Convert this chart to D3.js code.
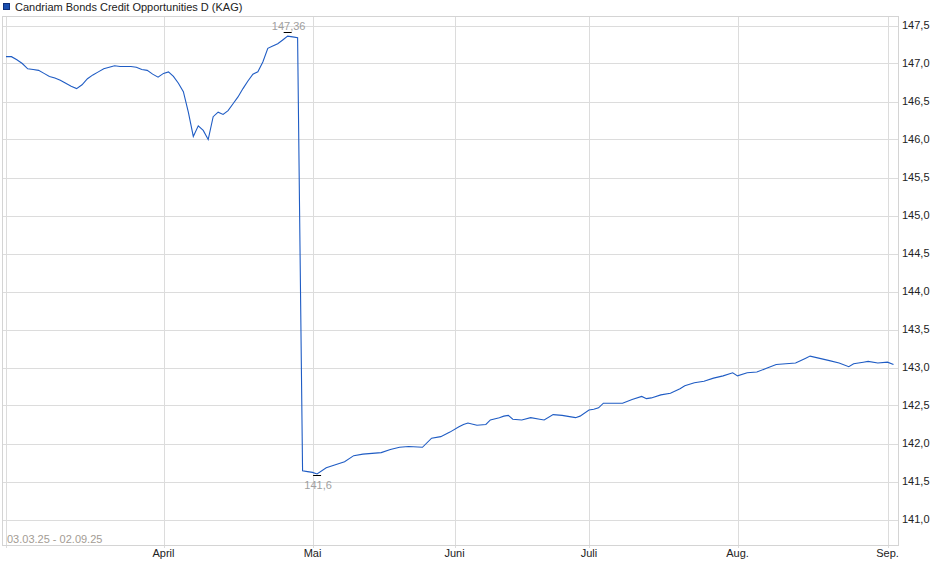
<!DOCTYPE html>
<html>
<head>
<meta charset="utf-8">
<script src="https://cdn.jsdelivr.net/npm/d3@7"></script>
<style>
  body { margin: 0; background: #fff; }
  text { font-family: "Liberation Sans", Arial, sans-serif; font-size: 11px; }
</style>
</head>
<body>
<script>
var seriesName = "Candriam Bonds Credit Opportunities D (KAG)";
var rangeLabel = "03.03.25 - 02.09.25";

var dates = [
  "2025-03-03","2025-03-04","2025-03-05","2025-03-06","2025-03-07","2025-03-08","2025-03-09","2025-03-10",
  "2025-03-11","2025-03-12","2025-03-13","2025-03-14","2025-03-15","2025-03-16","2025-03-17","2025-03-18",
  "2025-03-19","2025-03-20","2025-03-21","2025-03-22","2025-03-23","2025-03-24","2025-03-25","2025-03-26",
  "2025-03-27","2025-03-28","2025-03-29","2025-03-30","2025-03-31","2025-04-01","2025-04-02","2025-04-03",
  "2025-04-04","2025-04-05","2025-04-06","2025-04-07","2025-04-08","2025-04-09","2025-04-10","2025-04-11",
  "2025-04-12","2025-04-13","2025-04-14","2025-04-15","2025-04-16","2025-04-17","2025-04-18","2025-04-19",
  "2025-04-20","2025-04-21","2025-04-22","2025-04-23","2025-04-24","2025-04-25","2025-04-26","2025-04-27",
  "2025-04-28","2025-04-29","2025-04-30","2025-05-01","2025-05-02","2025-05-04","2025-05-06","2025-05-08",
  "2025-05-10","2025-05-12","2025-05-14","2025-05-16","2025-05-18","2025-05-20","2025-05-22","2025-05-25",
  "2025-05-27","2025-05-29","2025-05-31","2025-06-02","2025-06-03","2025-06-04","2025-06-06","2025-06-08",
  "2025-06-09","2025-06-11","2025-06-12","2025-06-13","2025-06-14","2025-06-16","2025-06-18","2025-06-20",
  "2025-06-21","2025-06-23","2025-06-25","2025-06-27","2025-06-28","2025-06-29","2025-07-01","2025-07-02",
  "2025-07-03","2025-07-04","2025-07-08","2025-07-10","2025-07-12","2025-07-13","2025-07-14","2025-07-16",
  "2025-07-18","2025-07-20","2025-07-21","2025-07-23","2025-07-25","2025-07-27","2025-07-29","2025-07-31",
  "2025-08-01","2025-08-03","2025-08-05","2025-08-07","2025-08-09","2025-08-11","2025-08-13","2025-08-14",
  "2025-08-15","2025-08-16","2025-08-18","2025-08-20","2025-08-22","2025-08-24","2025-08-25","2025-08-27",
  "2025-08-28","2025-08-30","2025-09-01","2025-09-02"
];

var values = [
  147.09,147.09,147.05,147.00,146.93,146.92,146.91,146.87,
  146.83,146.81,146.78,146.74,146.70,146.67,146.72,146.80,
  146.85,146.89,146.93,146.95,146.97,146.96,146.96,146.96,
  146.95,146.92,146.91,146.86,146.82,146.87,146.89,146.83,
  146.74,146.63,146.36,146.04,146.18,146.12,146.00,146.30,
  146.36,146.33,146.38,146.47,146.56,146.67,146.77,146.86,
  146.89,147.02,147.20,147.23,147.26,147.31,147.36,147.35,
  147.34,141.64,141.63,141.62,141.60,141.68,141.72,141.76,
  141.84,141.86,141.87,141.88,141.92,141.95,141.96,141.95,
  142.07,142.09,142.15,142.22,142.25,142.27,142.24,142.25,
  142.31,142.34,142.36,142.37,142.32,142.31,142.34,142.32,
  142.31,142.38,142.37,142.35,142.34,142.36,142.44,142.45,
  142.47,142.53,142.53,142.58,142.62,142.59,142.60,142.64,
  142.66,142.72,142.76,142.80,142.82,142.86,142.89,142.93,
  142.89,142.93,142.94,142.99,143.04,143.05,143.06,143.09,
  143.12,143.15,143.12,143.09,143.06,143.01,143.05,143.07,
  143.08,143.06,143.07,143.04
];

var monthDates = ["2025-04-01","2025-05-01","2025-06-01","2025-07-01","2025-08-01","2025-09-01"];
var monthLabels = ["April","Mai","Juni","Juli","Aug.","Sep."];
var yTicks = [141.0,141.5,142.0,142.5,143.0,143.5,144.0,144.5,145.0,145.5,146.0,146.5,147.0,147.5];

var width = 940, height = 579;
var frame = {left: 2, top: 16, right: 898, bottom: 545};

var parse = d3.timeParse("%Y-%m-%d");
var data = dates.map(function(d, i) { return {date: parse(d), value: values[i]}; });

var de = d3.formatLocale({decimal: ",", thousands: ".", grouping: [3], currency: ["", "€"]});
var fmtTick = de.format(".1f"),
    fmtExt = de.format(".2~f");

// the x axis is not uniform in calendar time, so map each month start
var x = d3.scaleTime()
    .domain([parse("2025-03-03")].concat(monthDates.map(parse), [parse("2025-09-02")]))
    .range([6, 163.5, 312.5, 454.5, 589, 737.5, 887.5, 893.5]);

var y = d3.scaleLinear().domain([141, 147.5]).range([519.5, 25.5]);

var svg = d3.select("body").append("svg")
    .attr("width", width)
    .attr("height", height);

// horizontal grid
svg.append("g").selectAll("line").data(yTicks).enter().append("line")
    .attr("x1", frame.left).attr("x2", frame.right)
    .attr("y1", function(d) { return Math.round(y(d)) + 0.5; })
    .attr("y2", function(d) { return Math.round(y(d)) + 0.5; })
    .style("stroke", "#dcdcdc");

// vertical grid (start + months)
var vlines = [parse(dates[0])].concat(monthDates.map(parse));
svg.append("g").selectAll("line").data(vlines).enter().append("line")
    .attr("x1", function(d) { return Math.round(x(d)) + 0.5; })
    .attr("x2", function(d) { return Math.round(x(d)) + 0.5; })
    .attr("y1", frame.top).attr("y2", frame.bottom + 3)
    .style("stroke", "#dcdcdc");

// frame
svg.append("rect")
    .attr("x", frame.left + 0.5).attr("y", frame.top + 0.5)
    .attr("width", frame.right - frame.left).attr("height", frame.bottom - frame.top)
    .style("fill", "none").style("stroke", "#d4d4d4");

// y labels
svg.append("g").selectAll("text").data(yTicks).enter().append("text")
    .attr("x", 902)
    .attr("y", function(d) { return y(d); })
    .attr("dy", "0.35em")
    .style("fill", "#222")
    .text(function(d) { return fmtTick(d); });

// month labels
svg.append("g").selectAll("text").data(monthDates).enter().append("text")
    .attr("x", function(d) { return x(parse(d)); })
    .attr("y", 557)
    .attr("text-anchor", "middle")
    .style("fill", "#222")
    .text(function(d, i) { return monthLabels[i]; });

svg.append("text")
    .attr("x", 7).attr("y", 543)
    .style("fill", "#a39c94")
    .text(rangeLabel);

// legend
svg.append("rect")
    .attr("x", 3.5).attr("y", 3.5).attr("width", 6).attr("height", 6)
    .style("fill", "#1a4fb0").style("stroke", "#10307a");
svg.append("text")
    .attr("x", 15).attr("y", 10.5)
    .style("fill", "#222")
    .text(seriesName);

var line = d3.line()
    .x(function(d) { return x(d.date); })
    .y(function(d) { return y(d.value); });

svg.append("path")
    .datum(data)
    .attr("d", line)
    .style("fill", "none")
    .style("stroke", "#1f5cc4")
    .style("stroke-width", 1.1);

// max / min markers
var iMax = d3.maxIndex(data, function(d) { return d.value; }),
    iMin = d3.minIndex(data, function(d) { return d.value; });

[{d: data[iMax], off: -4, ty: -6}, {d: data[iMin], off: 1, ty: 15}].forEach(function(m) {
  var px = x(m.d.date), py = y(m.d.value);
  svg.append("line")
      .attr("x1", px - 4).attr("x2", px + 4)
      .attr("y1", Math.round(py + m.off) + 0.5).attr("y2", Math.round(py + m.off) + 0.5)
      .style("stroke", "#000");
  svg.append("text")
      .attr("x", px + 1).attr("y", py + m.ty)
      .attr("text-anchor", "middle")
      .style("fill", "#a0a0a0")
      .text(fmtExt(m.d.value));
});
</script>
</body>
</html>
